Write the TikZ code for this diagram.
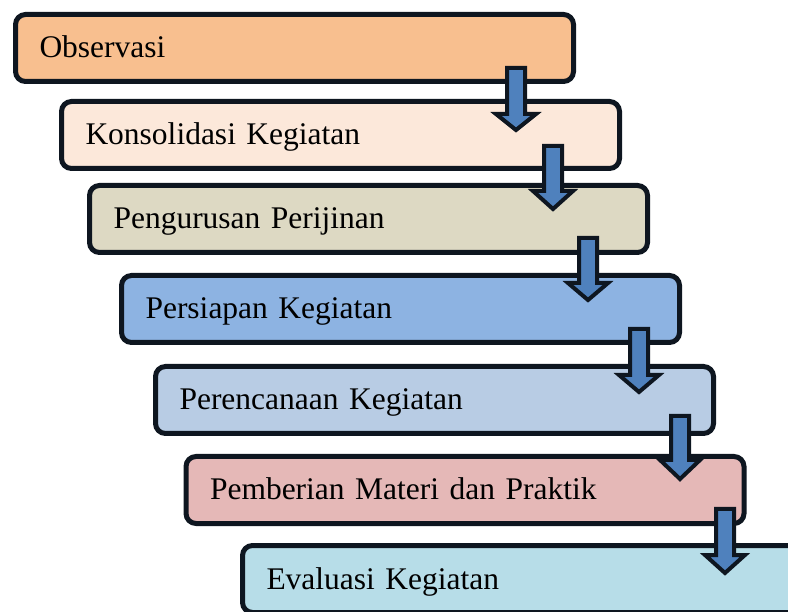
\documentclass[tikz,border=0pt]{standalone}
\usepackage{fontspec}
\setmainfont{Liberation Serif}
\definecolor{bord}{HTML}{0E1620}
\definecolor{c1}{HTML}{F8BF8F}
\definecolor{c2}{HTML}{FCE8DA}
\definecolor{c3}{HTML}{DDD9C3}
\definecolor{c4}{HTML}{8DB3E2}
\definecolor{c5}{HTML}{B8CCE4}
\definecolor{c6}{HTML}{E5B8B7}
\definecolor{c7}{HTML}{B7DDE8}
\definecolor{arr}{HTML}{4F81BD}
\tikzset{
  stepbox/.style={draw=bord, line width=5pt, rounded corners=10pt, outer sep=0pt,
    minimum height=67pt, text width=510pt, inner xsep=24pt, inner ysep=0pt,
    align=left, anchor=north west, text height=22pt, text depth=2pt,
    font=\fontsize{31.5}{36}\selectfont},
  blockarrow/.style={draw=bord, fill=arr, line width=4pt, line join=miter}
}
\newcommand{\downarrowshape}[4]{% cx, outer top, head base outer, tip outer
  \draw[blockarrow] (#1-9,#2+2) -- (#1+9,#2+2) -- (#1+9,#3+2) -- (#1+20,#3+2)
    -- (#1,#4-3) -- (#1-20,#3+2) -- (#1-9,#3+2) -- cycle;}
\begin{document}
\begin{tikzpicture}[x=1pt,y=-1pt]
\useasboundingbox (0,0) rectangle (788,612);
\clip (0,0) rectangle (788,612);
\node[stepbox, fill=c1] (b1) at (15.5,14.5) {Observasi};
\node[stepbox, fill=c2] (b2) at (61.5,101.5) {Konsolidasi Kegiatan};
\node[stepbox, fill=c3] (b3) at (89.5,185.5) {Pengurusan Perijinan};
\node[stepbox, fill=c4] (b4) at (121.5,275.5) {Persiapan Kegiatan};
\node[stepbox, fill=c5] (b5) at (155.5,366.5) {Perencanaan Kegiatan};
\node[stepbox, fill=c6] (b6) at (186,456.5) {Pemberian Materi dan Praktik};
\node[stepbox, fill=c7] (b7) at (242.5,545.5) {Evaluasi Kegiatan};
\downarrowshape{516}{66}{112}{133}
\downarrowshape{553}{144}{189}{212}
\downarrowshape{588}{236}{281}{303}
\downarrowshape{639}{327}{373}{395}
\downarrowshape{680}{414}{458}{482}
\downarrowshape{725}{507}{553}{576}
\end{tikzpicture}
\end{document}
